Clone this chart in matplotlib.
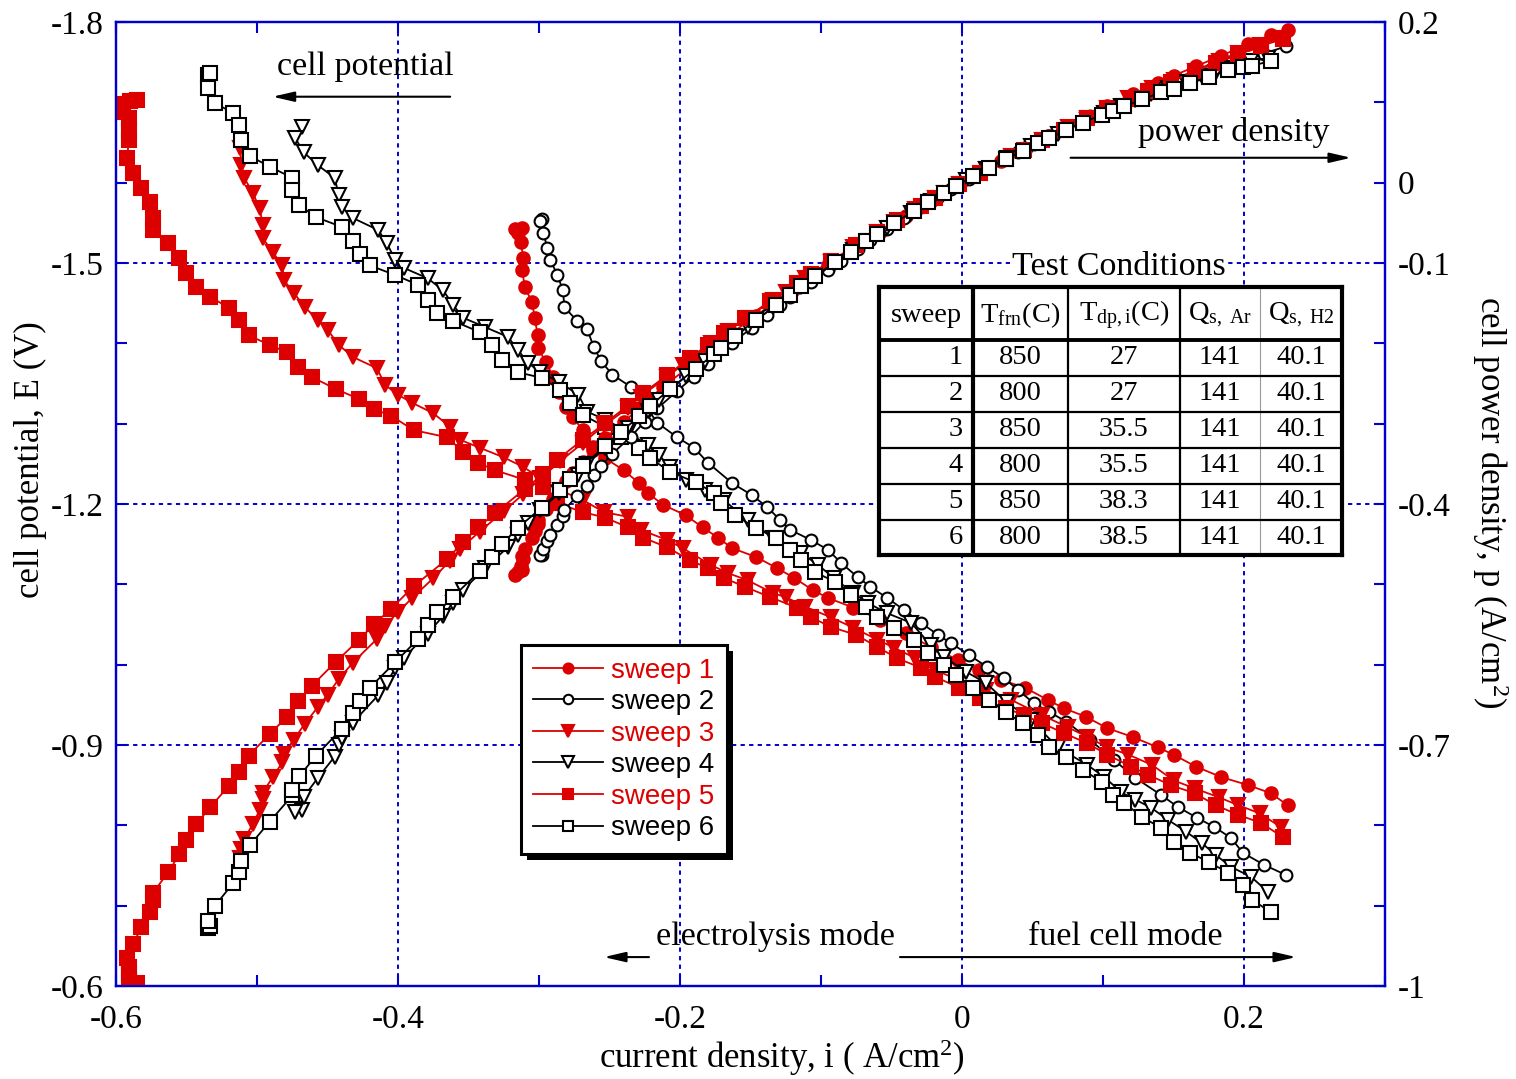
"""Cell potential and power density sweeps (six sweeps, two furnace temperatures)."""

import matplotlib
matplotlib.use("Agg")
import matplotlib.pyplot as plt
from matplotlib.lines import Line2D
from matplotlib.patches import Rectangle

RED = "#dd0000"
BLUE = "#0000cc"

plt.rcParams.update({
    "font.family": "Liberation Serif",
    "mathtext.fontset": "custom",
    "mathtext.rm": "Liberation Serif",
    "mathtext.it": "Liberation Serif:italic",
    "mathtext.default": "regular",
})

# --- data: current density i (A/cm2), cell potential E (V) ---

S1_I = [-0.312, -0.317, -0.315, -0.313, -0.311, -0.312, -0.310, -0.305, -0.303, -0.301,
        -0.301, -0.295, -0.290, -0.286, -0.281, -0.276, -0.269, -0.262, -0.253, -0.240,
        -0.229, -0.223, -0.212, -0.196, -0.184, -0.173, -0.163, -0.146, -0.131, -0.119,
        -0.106, -0.095, -0.077, -0.058, -0.040, -0.022, -0.003, 0.012, 0.028, 0.045,
        0.061, 0.072, 0.088, 0.103, 0.121, 0.139, 0.150, 0.166, 0.184, 0.203, 0.219, 0.231]
S1_E = [-1.544, -1.542, -1.537, -1.526, -1.506, -1.491, -1.470, -1.451, -1.432, -1.410,
        -1.394, -1.377, -1.358, -1.339, -1.321, -1.308, -1.292, -1.271, -1.257, -1.242,
        -1.226, -1.214, -1.199, -1.186, -1.171, -1.158, -1.145, -1.134, -1.120, -1.108,
        -1.093, -1.083, -1.071, -1.056, -1.039, -1.022, -1.006, -0.993, -0.981, -0.971,
        -0.956, -0.946, -0.935, -0.921, -0.910, -0.897, -0.888, -0.873, -0.860, -0.850,
        -0.840, -0.825]

S2_I = [-0.298, -0.299, -0.297, -0.294, -0.292, -0.287, -0.283, -0.282, -0.273, -0.266,
        -0.261, -0.256, -0.248, -0.235, -0.225, -0.216, -0.202, -0.190, -0.180, -0.163,
        -0.149, -0.138, -0.129, -0.122, -0.107, -0.095, -0.086, -0.074, -0.065, -0.053,
        -0.041, -0.029, -0.017, -0.008, 0.005, 0.018, 0.030, 0.040, 0.051, 0.062,
        0.074, 0.091, 0.108, 0.123, 0.141, 0.153, 0.167, 0.179, 0.191, 0.199, 0.214, 0.230]
S2_E = [-1.555, -1.552, -1.537, -1.519, -1.504, -1.485, -1.466, -1.445, -1.428, -1.418,
        -1.395, -1.378, -1.361, -1.346, -1.323, -1.301, -1.283, -1.270, -1.251, -1.226,
        -1.211, -1.196, -1.180, -1.168, -1.155, -1.143, -1.127, -1.109, -1.097, -1.083,
        -1.068, -1.052, -1.037, -1.027, -1.012, -0.997, -0.983, -0.968, -0.952, -0.941,
        -0.929, -0.906, -0.881, -0.859, -0.838, -0.823, -0.809, -0.798, -0.784, -0.766,
        -0.751, -0.738]

S3_I = [-0.512, -0.511, -0.509, -0.503, -0.498, -0.496, -0.496, -0.489, -0.482, -0.481,
        -0.474, -0.466, -0.457, -0.450, -0.442, -0.432, -0.415, -0.409, -0.400, -0.390,
        -0.375, -0.363, -0.356, -0.342, -0.325, -0.311, -0.299, -0.285, -0.269, -0.254,
        -0.237, -0.228, -0.209, -0.198, -0.178, -0.166, -0.152, -0.134, -0.125, -0.111,
        -0.093, -0.077, -0.060, -0.048, -0.033, -0.019, -0.002, 0.017, 0.035, 0.057,
        0.075, 0.089, 0.103, 0.118, 0.135, 0.150, 0.165, 0.182, 0.196, 0.211, 0.226]
S3_E = [-1.643, -1.622, -1.606, -1.587, -1.568, -1.547, -1.531, -1.514, -1.497, -1.479,
        -1.463, -1.445, -1.429, -1.417, -1.398, -1.383, -1.369, -1.348, -1.336, -1.326,
        -1.313, -1.296, -1.280, -1.270, -1.258, -1.246, -1.232, -1.217, -1.205, -1.190,
        -1.184, -1.168, -1.155, -1.145, -1.124, -1.114, -1.105, -1.089, -1.084, -1.072,
        -1.059, -1.046, -1.031, -1.021, -1.008, -0.993, -0.981, -0.968, -0.956, -0.937,
        -0.922, -0.910, -0.897, -0.888, -0.875, -0.856, -0.846, -0.835, -0.825, -0.815,
        -0.798]

S4_I = [-0.468, -0.473, -0.467, -0.457, -0.445, -0.442, -0.440, -0.432, -0.414, -0.408,
        -0.402, -0.396, -0.379, -0.368, -0.361, -0.354, -0.338, -0.322, -0.315, -0.308,
        -0.299, -0.286, -0.272, -0.266, -0.253, -0.237, -0.223, -0.215, -0.207, -0.196,
        -0.182, -0.169, -0.152, -0.134, -0.114, -0.102, -0.091, -0.077, -0.067, -0.053,
        -0.036, -0.022, -0.013, 0.003, 0.017, 0.032, 0.049, 0.068, 0.089, 0.101,
        0.113, 0.123, 0.134, 0.146, 0.159, 0.170, 0.180, 0.191, 0.205, 0.217]
S4_E = [-1.669, -1.656, -1.638, -1.622, -1.606, -1.585, -1.570, -1.556, -1.541, -1.525,
        -1.504, -1.494, -1.481, -1.466, -1.448, -1.432, -1.420, -1.408, -1.392, -1.376,
        -1.364, -1.352, -1.336, -1.315, -1.305, -1.290, -1.273, -1.261, -1.246, -1.230,
        -1.217, -1.205, -1.180, -1.158, -1.139, -1.124, -1.108, -1.089, -1.077, -1.064,
        -1.052, -1.024, -1.010, -0.991, -0.977, -0.953, -0.931, -0.897, -0.875, -0.860,
        -0.841, -0.832, -0.822, -0.807, -0.792, -0.778, -0.763, -0.748, -0.736, -0.717]

S5_I = [-0.585, -0.590, -0.595, -0.599, -0.591, -0.591, -0.591, -0.592, -0.588, -0.582,
        -0.576, -0.574, -0.574, -0.563, -0.555, -0.550, -0.543, -0.533, -0.520, -0.513,
        -0.506, -0.491, -0.479, -0.471, -0.461, -0.444, -0.428, -0.417, -0.405, -0.389,
        -0.365, -0.354, -0.343, -0.331, -0.310, -0.297, -0.287, -0.269, -0.253, -0.237,
        -0.226, -0.209, -0.193, -0.180, -0.169, -0.154, -0.136, -0.117, -0.107, -0.093,
        -0.075, -0.060, -0.046, -0.029, -0.019, -0.002, 0.013, 0.031, 0.044, 0.057,
        0.072, 0.089, 0.103, 0.120, 0.132, 0.148, 0.165, 0.180, 0.196, 0.212, 0.228]
S5_E = [-1.703, -1.702, -1.698, -1.688, -1.680, -1.666, -1.653, -1.631, -1.612, -1.593,
        -1.576, -1.556, -1.541, -1.525, -1.506, -1.488, -1.470, -1.458, -1.444, -1.429,
        -1.410, -1.398, -1.389, -1.371, -1.358, -1.343, -1.331, -1.318, -1.310, -1.292,
        -1.283, -1.265, -1.251, -1.242, -1.230, -1.221, -1.201, -1.190, -1.183, -1.171,
        -1.158, -1.146, -1.130, -1.120, -1.108, -1.097, -1.084, -1.071, -1.059, -1.047,
        -1.037, -1.022, -1.008, -0.996, -0.985, -0.971, -0.958, -0.946, -0.937, -0.927,
        -0.915, -0.902, -0.888, -0.873, -0.863, -0.850, -0.840, -0.825, -0.813, -0.803,
        -0.785]

S6_I = [-0.535, -0.533, -0.535, -0.530, -0.517, -0.513, -0.511, -0.505, -0.491, -0.475,
        -0.475, -0.470, -0.458, -0.440, -0.432, -0.427, -0.420, -0.402, -0.386, -0.379,
        -0.372, -0.361, -0.342, -0.333, -0.326, -0.315, -0.298, -0.285, -0.278, -0.269,
        -0.253, -0.242, -0.229, -0.221, -0.207, -0.189, -0.176, -0.171, -0.161, -0.146,
        -0.132, -0.122, -0.114, -0.104, -0.090, -0.079, -0.068, -0.060, -0.048, -0.034,
        -0.024, -0.013, -0.004, 0.008, 0.019, 0.031, 0.043, 0.054, 0.062, 0.074,
        0.086, 0.099, 0.107, 0.115, 0.128, 0.141, 0.150, 0.162, 0.175, 0.189,
        0.199, 0.206, 0.219]
S6_E = [-1.734, -1.737, -1.718, -1.699, -1.687, -1.672, -1.653, -1.633, -1.620, -1.606,
        -1.591, -1.572, -1.557, -1.545, -1.527, -1.511, -1.497, -1.485, -1.473, -1.454,
        -1.438, -1.428, -1.414, -1.398, -1.379, -1.364, -1.357, -1.342, -1.326, -1.311,
        -1.296, -1.283, -1.270, -1.257, -1.240, -1.227, -1.214, -1.201, -1.186, -1.170,
        -1.158, -1.143, -1.130, -1.115, -1.103, -1.087, -1.072, -1.059, -1.046, -1.031,
        -1.015, -1.000, -0.987, -0.971, -0.956, -0.941, -0.927, -0.912, -0.897, -0.885,
        -0.869, -0.854, -0.838, -0.828, -0.810, -0.797, -0.779, -0.766, -0.754, -0.741,
        -0.726, -0.707, -0.692]

# test conditions table
TAB_HEAD = ["sweep", r"T$_{\rm frn}$(C)", r"T$_{\rm dp,i}$(C)",
            r"Q$_{\rm s,\ Ar}$", r"Q$_{\rm s,\ H2}$"]
TAB_SWEEP = ["1", "2", "3", "4", "5", "6"]
TAB_T_FRN = ["850", "800", "850", "800", "850", "800"]
TAB_T_DP = ["27", "27", "35.5", "35.5", "38.3", "38.5"]
TAB_Q_AR = ["141", "141", "141", "141", "141", "141"]
TAB_Q_H2 = ["40.1", "40.1", "40.1", "40.1", "40.1", "40.1"]

X_TICKS = [-0.6, -0.5, -0.4, -0.3, -0.2, -0.1, 0.0, 0.1, 0.2, 0.3]
X_LABELS = ["-0.6", "", "-0.4", "", "-0.2", "", "0", "", "0.2", ""]
E_TICKS = [-1.8, -1.7, -1.6, -1.5, -1.4, -1.3, -1.2, -1.1, -1.0, -0.9, -0.8, -0.7, -0.6]
E_LABELS = ["-1.8", "", "", "-1.5", "", "", "-1.2", "", "", "-0.9", "", "", "-0.6"]
P_TICKS = [-1.0, -0.9, -0.8, -0.7, -0.6, -0.5, -0.4, -0.3, -0.2, -0.1, 0.0, 0.1, 0.2]
P_LABELS = ["-1", "", "", "-0.7", "", "", "-0.4", "", "", "-0.1", "0", "", "0.2"]

# label, i, E, marker, colour, filled, marker size
SWEEPS = [
    ("sweep 1", S1_I, S1_E, "o", RED, True, 9),
    ("sweep 2", S2_I, S2_E, "o", "black", False, 8.5),
    ("sweep 3", S3_I, S3_E, "v", RED, True, 10),
    ("sweep 4", S4_I, S4_E, "v", "black", False, 10),
    ("sweep 5", S5_I, S5_E, "s", RED, True, 9.5),
    ("sweep 6", S6_I, S6_E, "s", "black", False, 9.5),
]

W, H = 1516, 1079
fig = plt.figure(figsize=(W / 100, H / 100), dpi=100)
ax = fig.add_axes([116 / W, 1 - 986 / H, (1385 - 116) / W, (986 - 22) / H])
ax2 = ax.twinx()

for label, cur, pot, mk, col, filled, ms in SWEEPS:
    # power density p = -i*E, plotted against the right-hand axis
    pwr = [-c * e for c, e in zip(cur, pot)]
    style = dict(color=col, marker=mk, markersize=ms, linewidth=1.3,
                 markeredgewidth=1.5, markeredgecolor=col,
                 markerfacecolor=col if filled else "white")
    ax.plot(cur, pot, **style)
    ax2.plot(cur, pwr, **style)

ax.set_xlim(-0.6, 0.3)
ax.set_ylim(-0.6, -1.8)
ax2.set_ylim(-1.0, 0.2)

for x in (-0.4, -0.2, 0.0, 0.2):
    ax.axvline(x, color=BLUE, lw=1.4, ls=(0, (2.2, 2.2)), zorder=0)
for y in (-1.5, -1.2, -0.9):
    ax.axhline(y, color=BLUE, lw=1.4, ls=(0, (2.2, 2.2)), zorder=0)

ax.set_xticks(X_TICKS)
ax.set_xticklabels(X_LABELS)
ax.set_yticks(E_TICKS)
ax.set_yticklabels(E_LABELS)
ax2.set_yticks(P_TICKS)
ax2.set_yticklabels(P_LABELS)
ax.tick_params(axis="x", direction="in", top=True, length=8, width=1.5,
               color=BLUE, labelsize=24, pad=13)
ax.tick_params(axis="y", direction="in", length=8, width=1.5,
               color=BLUE, labelsize=24, pad=9)
ax2.tick_params(axis="y", direction="in", length=8, width=1.5,
                color=BLUE, labelsize=24, pad=9)
for a in (ax, ax2):
    for sp in a.spines.values():
        sp.set_color(BLUE)
        sp.set_linewidth(1.6)

fig.text(30 / W, 1 - 460 / H, "cell potential, E (V)", rotation=90,
         ha="center", va="center", fontsize=25)
fig.text(1490 / W, 1 - 502 / H, "cell power density, p (A/cm$^2$)", rotation=270,
         ha="center", va="center", fontsize=25)
fig.text(782 / W, 1 - 1058 / H, "current density, i ( A/cm$^2$)",
         ha="center", va="center", fontsize=25)

# annotations
arrow = dict(arrowstyle="-|>,head_length=1.3,head_width=0.3", color="black",
             lw=1.5, shrinkA=0, shrinkB=0)
ax.text(-0.423, -1.744, "cell potential", ha="center", va="center", fontsize=24.5)
ax.annotate("", xy=(-0.489, -1.707), xytext=(-0.363, -1.707), arrowprops=arrow)
ax.text(0.193, -1.662, "power density", ha="center", va="center", fontsize=24.5)
ax.annotate("", xy=(0.276, -1.631), xytext=(0.077, -1.631), arrowprops=arrow)
ax.text(-0.132, -0.661, "electrolysis mode", ha="center", va="center", fontsize=24.5)
ax.annotate("", xy=(-0.254, -0.636), xytext=(-0.222, -0.636), arrowprops=arrow)
ax.text(0.116, -0.661, "fuel cell mode", ha="center", va="center", fontsize=24.5)
ax.annotate("", xy=(0.237, -0.636), xytext=(-0.044, -0.636), arrowprops=arrow)
ax2.text(0.111, -0.105, "Test Conditions", ha="center", va="center", fontsize=24.5,
         bbox=dict(facecolor="white", edgecolor="none", pad=1))

# legend with a hard black drop shadow
handles = [Line2D([], [], color=c, marker=m, markersize=s * 0.8, linewidth=1.3,
                  markeredgewidth=1.5, markeredgecolor=c,
                  markerfacecolor=c if f else "white")
           for _, _, _, m, c, f, s in SWEEPS]
leg = ax2.legend(handles, [s[0] for s in SWEEPS], loc="upper left",
                 bbox_to_anchor=(0.3191, 0.3537), borderaxespad=0,
                 prop={"family": "Liberation Sans", "size": 20},
                 handlelength=2.5, handletextpad=0.3, labelspacing=0.2,
                 borderpad=0.45, fancybox=False, framealpha=1, edgecolor="black")
leg.get_frame().set_linewidth(2.2)
for txt, s in zip(leg.get_texts(), SWEEPS):
    txt.set_color(s[4])
fig.canvas.draw()
bb = leg.get_window_extent()
shadow = Rectangle((bb.x0 + 6, bb.y0 - 6), bb.width, bb.height, transform=None,
                   facecolor="black", edgecolor="none", zorder=4.9)
ax2.add_artist(shadow)

# test conditions table, drawn in its own pixel-unit axes
tab = fig.add_axes([879 / W, 1 - 555 / H, 463 / W, 268 / H])
tab.set_xlim(0, 463)
tab.set_ylim(268, 0)
tab.set_xticks([])
tab.set_yticks([])
for sp in tab.spines.values():
    sp.set_linewidth(3)
    sp.set_color("black")
col_edges = [94, 189, 301, 381]
col_lw = [3, 1.6, 1.6, 0.8]
col_c = ["black", "black", "black", "#999999"]
for x, lw, c in zip(col_edges, col_lw, col_c):
    tab.plot([x, x], [0, 268], color=c, lw=lw)
tab.plot([0, 463], [53, 53], color="black", lw=2.8)
for y in (89, 125, 161, 197, 233):
    tab.plot([0, 463], [y, y], color="black", lw=1.6)
head_x = [47, 141, 245, 341, 422]
for x, h in zip(head_x, TAB_HEAD):
    tab.text(x, 28, h, ha="center", va="center", fontsize=20.5)
for r in range(6):
    y = 71 + 36 * r
    tab.text(84, y, TAB_SWEEP[r], ha="right", va="center", fontsize=20.5)
    tab.text(141, y, TAB_T_FRN[r], ha="center", va="center", fontsize=20.5)
    tab.text(245, y, TAB_T_DP[r], ha="center", va="center", fontsize=20.5)
    tab.text(341, y, TAB_Q_AR[r], ha="center", va="center", fontsize=20.5)
    tab.text(422, y, TAB_Q_H2[r], ha="center", va="center", fontsize=20.5)

fig.savefig("out.png", dpi=100)
